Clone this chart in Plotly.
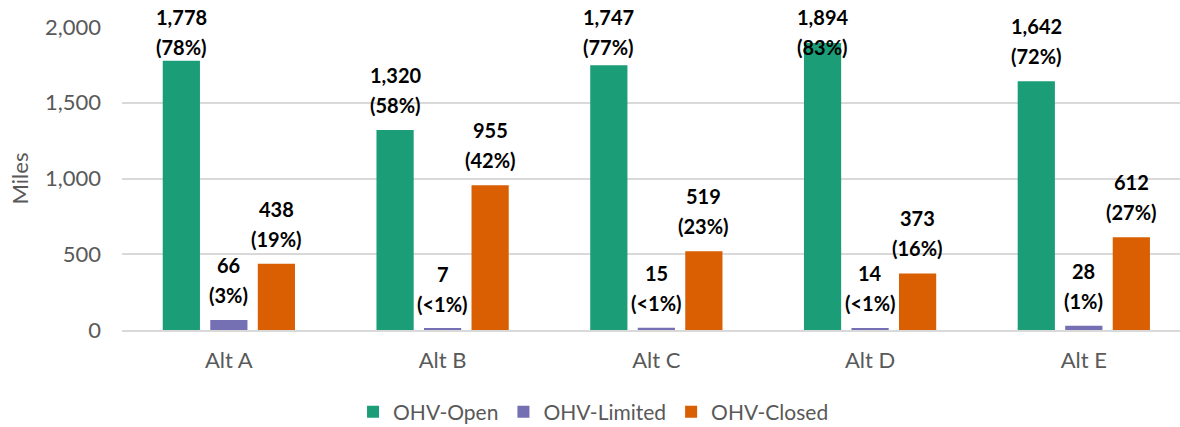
import plotly.graph_objects as go

categories = ["Alt A", "Alt B", "Alt C", "Alt D", "Alt E"]
ohv_open = [1778, 1320, 1747, 1894, 1642]
ohv_open_pct = ["78%", "58%", "77%", "83%", "72%"]
ohv_limited = [66, 7, 15, 14, 28]
ohv_limited_pct = ["3%", "<1%", "<1%", "<1%", "1%"]
ohv_closed = [438, 955, 519, 373, 612]
ohv_closed_pct = ["19%", "42%", "23%", "16%", "27%"]
y_ticks = [0, 500, 1000, 1500, 2000]

series = [
    ("OHV-Open", ohv_open, ohv_open_pct, "#1B9E77"),
    ("OHV-Limited", ohv_limited, ohv_limited_pct, "#7570B3"),
    ("OHV-Closed", ohv_closed, ohv_closed_pct, "#D95F02"),
]

FONT = "Lato, 'Open Sans', sans-serif"
GRAY = "#595959"
LABEL_CAP = 1703  # labels are kept inside the chart area (as in the source)
BARGAP = 0.333

fig = go.Figure()
for name, vals, pcts, color in series:
    fig.add_trace(go.Bar(
        name=name, x=categories, y=vals,
        marker=dict(color=color, line=dict(width=0)),
    ))

annotations = []
for i, (name, vals, pcts, color) in enumerate(series):
    offset = (i - 1) * (1 - BARGAP) / 3
    for j, (v, p) in enumerate(zip(vals, pcts)):
        ybase = min(v, LABEL_CAP)
        annotations.append(dict(
            x=j + offset, y=ybase, xref="x", yref="y",
            text=f"<b>({p})</b>", showarrow=False, yanchor="middle",
            yshift=25, font=dict(family=FONT, size=20, color="black")))
        annotations.append(dict(
            x=j + offset, y=ybase, xref="x", yref="y",
            text=f"<b>{v:,}</b>", showarrow=False, yanchor="middle",
            yshift=55, font=dict(family=FONT, size=20, color="black")))

fig.update_layout(
    width=1180, height=427,
    margin=dict(l=122, r=0, t=27, b=96.5),
    paper_bgcolor="white", plot_bgcolor="white",
    barmode="group", bargap=BARGAP, bargroupgap=0.217,
    font=dict(family=FONT, size=22, color=GRAY),
    showlegend=True,
    legend=dict(orientation="h", xref="container", x=0.503, xanchor="center",
                yref="container", y=0.035, yanchor="middle",
                font=dict(family=FONT, size=21, color=GRAY),
                itemwidth=30, tracegroupgap=0),
    annotations=annotations,
    xaxis=dict(type="category", range=[-0.5, 4.45], showgrid=False,
               showline=True, linecolor="#D9D9D9", linewidth=1.5,
               ticks="", ticklabelstandoff=10,
               tickfont=dict(family=FONT, size=22, color=GRAY)),
    yaxis=dict(range=[0, 2000], tickvals=y_ticks, tickformat=",",
               showgrid=True, gridcolor="#D9D9D9", gridwidth=1.5,
               zeroline=False, showline=False, ticks="",
               ticklabelstandoff=20,
               tickfont=dict(family=FONT, size=22, color=GRAY),
               title=dict(text="Miles", standoff=10,
                          font=dict(family=FONT, size=22, color=GRAY))),
)

fig.write_html(
    "out.html",
    config={"displayModeBar": False},
    post_script="document.body.style.margin='0';document.body.style.overflow='hidden';",
)
